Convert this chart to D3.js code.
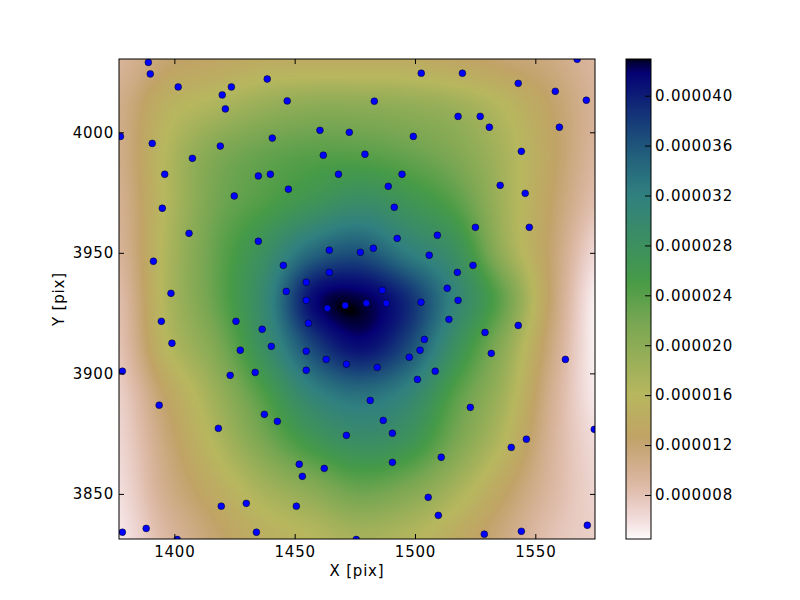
<!DOCTYPE html>
<html>
<head>
<meta charset="utf-8">
<script src="https://cdn.jsdelivr.net/npm/d3@7"></script>
<style>
body { margin: 0; background: #fff; }
text { font-family: 'DejaVu Sans', sans-serif; font-size: 15px; letter-spacing: 0.8px; fill: #000; }
</style>
</head>
<body>
<svg width="800" height="600"></svg>
<script>
var svg = d3.select('svg');

// Density map on a 20 pix grid (units of 1e-6)
var gridX = [1377, 1397, 1417, 1437, 1457, 1477, 1497, 1517, 1537, 1557, 1577];
var gridY = [4031, 4011, 3991, 3971, 3951, 3931, 3911, 3891, 3871, 3851, 3831];
var density = [
    [9.5, 12, 13, 14, 14, 14, 14, 13, 12, 11, 9],
    [10.5, 15, 17, 19, 20, 20, 19.5, 18.5, 16, 12.5, 9.5],
    [10.5, 16.5, 21, 23, 24, 24, 23, 21, 17.5, 13, 9],
    [10, 16.5, 22, 24.5, 27, 29, 27, 24, 18, 12.5, 8],
    [9.5, 17, 23, 28, 34, 36, 32, 28, 19, 12, 6],
    [8.5, 17, 23, 30, 41, 42.5, 39, 31, 23, 12, 4.5],
    [8, 16, 21, 28.5, 37, 41, 37, 28, 20, 11, 4.5],
    [7, 13, 18.5, 24.5, 31, 33.5, 31, 24, 18, 10, 5],
    [6.5, 11.5, 16.5, 21.5, 26, 28.5, 27, 21.5, 16, 9.5, 6],
    [6, 10.5, 14, 17.5, 20, 22.5, 21, 17.5, 13, 9, 6.5],
    [5.5, 9, 12, 14.5, 16, 17.5, 16.5, 14, 11, 8, 7]
];

// star positions
var starX = [1389.2, 1390.0, 1401.6, 1423.7, 1419.9, 1438.6, 1446.9, 1421.2, 1377.6, 1390.8,
    1407.5, 1419.1, 1440.7, 1460.5, 1472.7, 1461.9, 1468.2, 1396.0, 1434.9, 1439.9,
    1447.4, 1424.9, 1395.0, 1406.1, 1434.9, 1391.3, 1464.4, 1477.3, 1445.3, 1464.4,
    1398.6, 1454.8, 1446.5, 1454.8, 1567.4, 1502.6, 1519.7, 1542.9, 1558.3, 1571.2,
    1483.1, 1517.9, 1527.1, 1530.9, 1560.0, 1499.3, 1479.2, 1544.2, 1494.6, 1488.9,
    1535.4, 1545.8, 1491.4, 1525.1, 1547.5, 1509.3, 1492.6, 1482.7, 1505.9, 1524.1,
    1517.6, 1513.4, 1486.4, 1517.9, 1463.6, 1471.0, 1394.6, 1425.6, 1455.7, 1436.5,
    1399.0, 1440.3, 1427.4, 1454.8, 1463.1, 1471.5, 1378.4, 1433.6, 1454.8, 1423.2,
    1393.7, 1437.4, 1442.8, 1418.3, 1471.5, 1451.9, 1462.3, 1453.2, 1419.5, 1429.9,
    1450.7, 1378.4, 1388.3, 1434.1, 1401.2, 1475.6, 1479.8, 1488.1, 1502.5, 1514.1,
    1542.9, 1529.1, 1503.9, 1502.1, 1531.7, 1497.6, 1562.5, 1484.3, 1508.4, 1501.0,
    1481.4, 1523.0, 1486.8, 1490.6, 1574.5, 1546.3, 1540.0, 1490.6, 1510.9, 1505.5,
    1509.7, 1528.8, 1544.2, 1571.6];
var starY = [4029.0, 4024.2, 4018.8, 4018.8, 4015.5, 4022.1, 4013.0, 4009.7, 3998.3, 3995.4,
    3989.2, 3994.3, 3997.6, 4000.8, 4000.0, 3990.5, 3982.6, 3982.6, 3981.9, 3982.6,
    3976.4, 3973.6, 3968.5, 3958.1, 3954.8, 3946.5, 3951.1, 3950.2, 3944.8, 3941.9,
    3933.2, 3937.8, 3934.0, 3930.3, 4030.3, 4024.5, 4024.5, 4020.3, 4017.0, 4013.3,
    4012.9, 4006.6, 4006.6, 4002.1, 4002.1, 3998.3, 3990.9, 3992.1, 3982.6, 3977.6,
    3978.0, 3974.7, 3968.9, 3960.6, 3960.6, 3957.3, 3956.0, 3951.9, 3949.0, 3944.8,
    3941.9, 3935.3, 3934.5, 3930.3, 3927.0, 3928.2, 3921.6, 3921.6, 3920.8, 3918.3,
    3912.5, 3911.2, 3909.6, 3909.2, 3905.8, 3903.8, 3900.9, 3900.4, 3901.3, 3899.2,
    3886.8, 3883.0, 3880.1, 3877.2, 3874.3, 3862.3, 3860.6, 3857.3, 3844.9, 3846.1,
    3844.9, 3834.1, 3835.7, 3834.1, 3831.1, 3831.1, 3929.1, 3929.1, 3929.5, 3922.4,
    3919.9, 3917.0, 3914.1, 3909.6, 3908.3, 3906.7, 3905.8, 3902.5, 3900.9, 3897.5,
    3888.8, 3885.9, 3880.5, 3875.2, 3876.8, 3872.7, 3869.3, 3863.1, 3865.2, 3848.6,
    3841.1, 3833.3, 3834.5, 3837.0];

var xTicks = [1400, 1450, 1500, 1550];
var yTicks = [3850, 3900, 3950, 4000];
var cbarTicks = [8, 12, 16, 20, 24, 28, 32, 36, 40];
var cbarRange = [4.47, 42.94];
var xRange = [1377, 1574.8];
var yRange = [3831.3, 4030.4];

// layout
var plotLeft = 119, plotTop = 59, plotW = 476, plotH = 480;
var cbarLeft = 626, cbarW = 25;

var x = d3.scaleLinear().domain(xRange).range([0, plotW]);
var y = d3.scaleLinear().domain(yRange).range([plotH, 0]);
var cval = d3.scaleLinear().domain(cbarRange).range([plotH, 0]);

// gist_earth segment data (matplotlib), used reversed
var gistEarth = {
    r: [[0, 0], [0.2824, 0.1882], [0.4588, 0.2714], [0.5490, 0.4719], [0.6980, 0.7176], [0.7882, 0.7553], [1, 0.9922]],
    g: [[0, 0], [0.0275, 0], [0.1098, 0.1893], [0.1647, 0.3035], [0.2078, 0.3841], [0.2824, 0.5020], [0.5216, 0.6397],
        [0.6980, 0.7171], [0.7882, 0.6392], [0.7922, 0.6413], [0.8000, 0.6447], [0.8078, 0.6481], [0.8157, 0.6549],
        [0.8667, 0.6991], [0.8745, 0.7103], [0.8824, 0.7216], [0.8902, 0.7323], [0.8980, 0.7430], [0.9412, 0.8275],
        [0.9569, 0.8635], [0.9647, 0.8816], [0.9961, 0.9733], [1, 0.9843]],
    b: [[0, 0], [0.0039, 0.1684], [0.0078, 0.2212], [0.0275, 0.4329], [0.0314, 0.4549], [0.2824, 0.5004],
        [0.4667, 0.2748], [0.5451, 0.3205], [0.7843, 0.3961], [0.8941, 0.6651], [1, 0.9843]]
};
var channel = {};
['r', 'g', 'b'].forEach(function(k) {
    channel[k] = d3.scaleLinear()
        .domain(gistEarth[k].map(function(d) { return d[0]; }))
        .range(gistEarth[k].map(function(d) { return d[1] * 255; }))
        .clamp(true);
});
var toT = d3.scaleLinear().domain(cbarRange).range([1, 0]).clamp(true);
function colorFor(v) {
    var t = toT(v);
    return [channel.r(t), channel.g(t), channel.b(t)];
}

// smooth the read grid (catmull-rom) for display
function cr(p0, p1, p2, p3, t) {
    return p1 + 0.5 * t * (p2 - p0 + t * (2 * p0 - 5 * p1 + 4 * p2 - p3 + t * (3 * (p1 - p2) + p3 - p0)));
}
var gi = d3.scaleLinear().domain([gridX[0], gridX[gridX.length - 1]]).range([0, gridX.length - 1]);
var gj = d3.scaleLinear().domain([gridY[0], gridY[gridY.length - 1]]).range([0, gridY.length - 1]);
function at(j, i) {
    j = Math.max(0, Math.min(density.length - 1, j));
    i = Math.max(0, Math.min(density[0].length - 1, i));
    return density[j][i];
}
function sample(dx, dy) {
    var fi = gi(dx), fj = gj(dy);
    var i = Math.floor(fi), j = Math.floor(fj);
    var tx = fi - i, ty = fj - j;
    var rows = [];
    for (var k = -1; k <= 2; k++)
        rows.push(cr(at(j + k, i - 1), at(j + k, i), at(j + k, i + 1), at(j + k, i + 2), tx));
    return cr(rows[0], rows[1], rows[2], rows[3], ty);
}

function rasterImage(w, h, valueAt) {
    var canvas = document.createElement('canvas');
    canvas.width = w;
    canvas.height = h;
    var ctx = canvas.getContext('2d');
    var img = ctx.createImageData(w, h);
    for (var py = 0; py < h; py++) {
        for (var px = 0; px < w; px++) {
            var c = colorFor(valueAt(px + 0.5, py + 0.5));
            var o = (py * w + px) * 4;
            img.data[o] = c[0];
            img.data[o + 1] = c[1];
            img.data[o + 2] = c[2];
            img.data[o + 3] = 255;
        }
    }
    ctx.putImageData(img, 0, 0);
    return canvas.toDataURL();
}

svg.append('defs').append('clipPath').attr('id', 'plotClip')
    .append('rect').attr('width', plotW).attr('height', plotH);

var plot = svg.append('g').attr('transform', 'translate(' + [plotLeft, plotTop] + ')');

plot.append('image')
    .attr('width', plotW)
    .attr('height', plotH)
    .attr('href', rasterImage(plotW, plotH, function(px, py) {
        return sample(x.invert(px), y.invert(py));
    }));

plot.append('g')
    .attr('clip-path', 'url(#plotClip)')
    .selectAll('circle')
    .data(d3.range(starX.length))
    .enter()
    .append('circle')
    .attr('cx', function(i) { return x(starX[i]); })
    .attr('cy', function(i) { return y(starY[i]); })
    .attr('r', 3.4)
    .attr('fill', '#0000ff')
    .attr('stroke', '#000')
    .attr('stroke-width', 0.5);

// axes, matplotlib style ticks pointing inward on all sides
function styleAxis(g) {
    g.select('.domain').remove();
    g.selectAll('.tick line').attr('stroke', '#000');
    g.attr('font-family', null).attr('font-size', null);
}
plot.append('g')
    .attr('transform', 'translate(0,' + plotH + ')')
    .call(d3.axisBottom(x).tickValues(xTicks).tickFormat(d3.format('d')).tickSizeInner(-5).tickPadding(7))
    .call(styleAxis);
plot.append('g')
    .call(d3.axisTop(x).tickValues(xTicks).tickSizeInner(-5).tickFormat(''))
    .call(styleAxis);
plot.append('g')
    .call(d3.axisLeft(y).tickValues(yTicks).tickFormat(d3.format('d')).tickSizeInner(-5).tickPadding(5))
    .call(styleAxis);
plot.append('g')
    .attr('transform', 'translate(' + plotW + ',0)')
    .call(d3.axisRight(y).tickValues(yTicks).tickSizeInner(-5).tickFormat(''))
    .call(styleAxis);

plot.append('rect')
    .attr('width', plotW)
    .attr('height', plotH)
    .attr('fill', 'none')
    .attr('stroke', '#000')
    .attr('stroke-width', 1);

svg.append('text')
    .attr('x', plotLeft + plotW / 2)
    .attr('y', 575.5)
    .attr('text-anchor', 'middle')
    .text('X [pix]');
svg.append('text')
    .attr('transform', 'translate(64,' + (plotTop + plotH / 2) + ') rotate(-90)')
    .attr('text-anchor', 'middle')
    .text('Y [pix]');

// colorbar
var cbar = svg.append('g').attr('transform', 'translate(' + [cbarLeft, plotTop] + ')');
cbar.append('image')
    .attr('width', cbarW)
    .attr('height', plotH)
    .attr('preserveAspectRatio', 'none')
    .attr('href', rasterImage(1, plotH, function(px, py) {
        return cval.invert(py);
    }));
cbar.append('g')
    .attr('transform', 'translate(' + cbarW + ',0)')
    .call(d3.axisRight(cval).tickValues(cbarTicks).tickSizeInner(-6).tickPadding(4)
        .tickFormat(function(d) { return (d * 1e-6).toFixed(6); }))
    .call(styleAxis);
cbar.append('rect')
    .attr('width', cbarW)
    .attr('height', plotH)
    .attr('fill', 'none')
    .attr('stroke', '#000')
    .attr('stroke-width', 1);
</script>
</body>
</html>
